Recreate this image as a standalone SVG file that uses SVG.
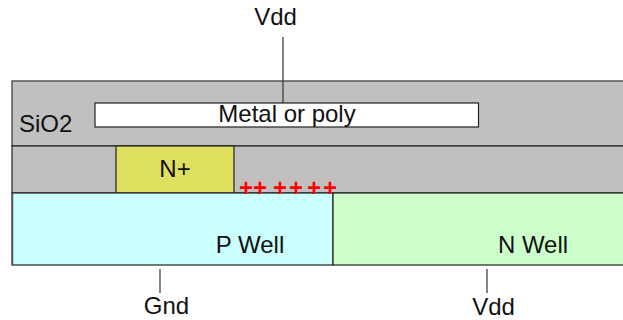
<svg xmlns="http://www.w3.org/2000/svg" width="623" height="320" viewBox="0 0 623 320">
<style>
text{font-family:"Liberation Sans",Arial,sans-serif;font-size:24px;fill:#111}
.s{stroke:#222;stroke-width:1.2}
.g{stroke:#555;stroke-width:1.5}
.w{stroke:#333;stroke-width:1.2;fill:none}
.p{font-weight:bold;fill:#f00}
</style>
<rect width="623" height="320" fill="#fff"/>
<g id="sio2-top"><rect x="12" y="81" width="620" height="65" fill="#c0c0c0" class="g"/><text x="19" y="132">SiO2</text></g>
<g id="sio2-bottom"><rect x="12" y="146" width="620" height="47" fill="#c0c0c0" class="s"/></g>
<g id="metal"><rect x="95" y="103" width="383.500" height="24" fill="#fff" class="s"/><text x="287" y="122" text-anchor="middle">Metal or poly</text></g>
<g id="nplus"><rect x="116" y="146" width="118" height="47" fill="#dfdf60" class="s"/><text x="175" y="177" text-anchor="middle">N+</text></g>
<g id="pwell"><rect x="12" y="193" width="321" height="72" fill="#ccffff" class="s"/><line x1="12.500" y1="193" x2="12.500" y2="265" class="g"/><text x="250" y="253" text-anchor="middle">P Well</text></g>
<g id="nwell"><rect x="333" y="193" width="300" height="72" fill="#ccffcc" class="s"/><text x="533" y="253" text-anchor="middle">N Well</text></g>
<g id="charges"><text class="p" x="239 253 273 289 307 323" y="196">++++++</text></g>
<g id="connectors">
<line x1="283" y1="37" x2="283" y2="103" class="w"/>
<line x1="160" y1="269" x2="160" y2="293" class="w"/>
<line x1="487" y1="269" x2="487" y2="293" class="w"/>
</g>
<g id="vdd-top"><text x="275.500" y="25" text-anchor="middle">Vdd</text></g>
<g id="gnd"><text x="166.500" y="314" text-anchor="middle">Gnd</text></g>
<g id="vdd-bottom"><text x="493.500" y="314.800" text-anchor="middle">Vdd</text></g>
</svg>
